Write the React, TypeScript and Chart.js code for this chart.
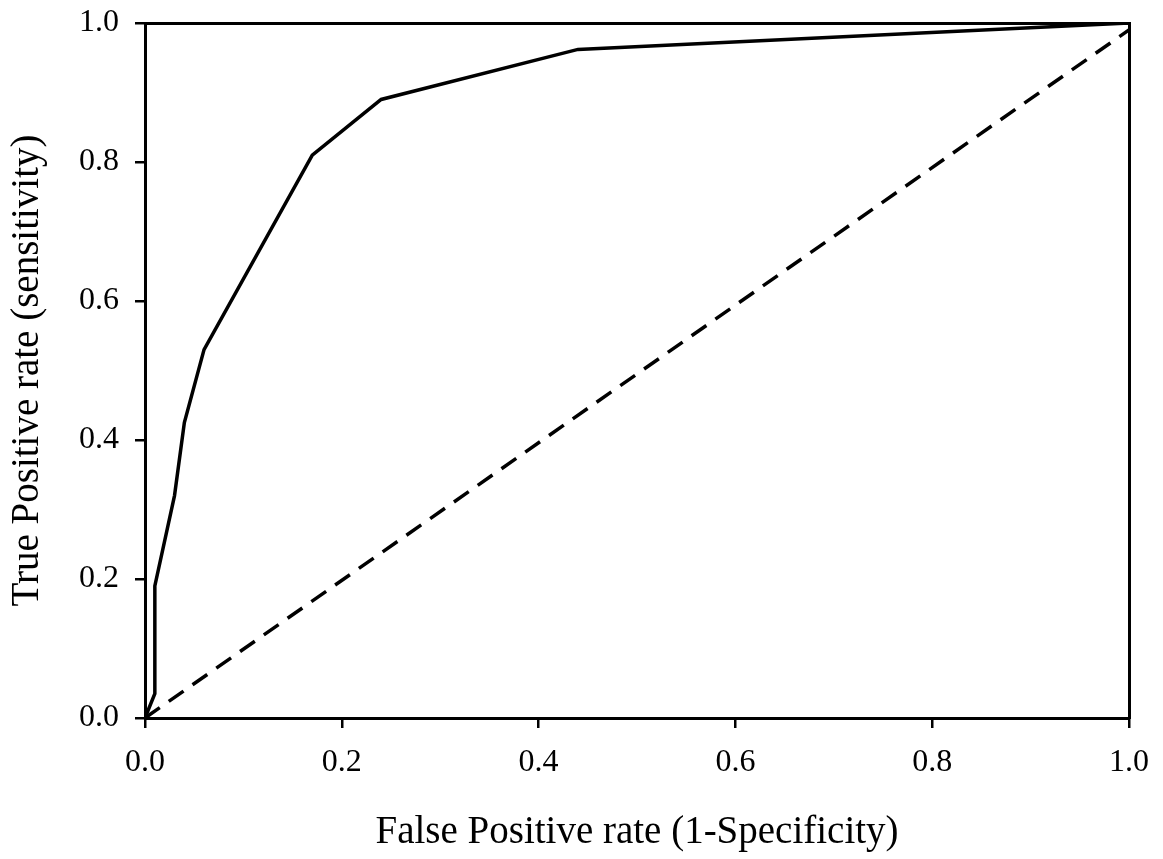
import React, { useEffect, useRef } from "react";
import { Chart, registerables } from "chart.js";

Chart.register(...registerables);

// ROC curve points (False Positive rate, True Positive rate)
const fpr = [0, 0.01, 0.01, 0.03, 0.04, 0.06, 0.17, 0.24, 0.44, 1.0];
const tpr = [0, 0.035, 0.19, 0.32, 0.425, 0.53, 0.81, 0.89, 0.962, 1.0];

// Reference (chance) diagonal
const diagX = [0, 1];
const diagY = [0, 0.99];

const xTickLabels = ["0.0", "0.2", "0.4", "0.6", "0.8", "1.0"];
const yTickLabels = ["0.0", "0.2", "0.4", "0.6", "0.8", "1.0"];

const xTitle = "False Positive rate (1-Specificity)";
const yTitle = "True Positive rate (sensitivity)";

const FONT = '"Liberation Serif", "Times New Roman", serif';

export default function App() {
  const ref = useRef<HTMLCanvasElement | null>(null);

  useEffect(() => {
    if (!ref.current) return;
    const tickFont = { family: FONT, size: 32, lineHeight: 1 };
    const titleFont = { family: FONT, size: 39, lineHeight: 1 };
    const chart = new Chart(ref.current, {
      type: "scatter",
      data: {
        datasets: [
          {
            data: fpr.map((x, i) => ({ x, y: tpr[i] })),
            showLine: true,
            borderColor: "#000",
            borderWidth: 3.5,
            pointRadius: 0,
            tension: 0,
            borderJoinStyle: "miter",
          },
          {
            data: diagX.map((x, i) => ({ x, y: diagY[i] })),
            showLine: true,
            borderColor: "#000",
            borderWidth: 3.5,
            borderDash: [18, 11],
            pointRadius: 0,
            tension: 0,
          },
        ],
      },
      options: {
        animation: false,
        responsive: false,
        devicePixelRatio: 1,
        layout: { padding: 0 },
        plugins: { legend: { display: false }, tooltip: { enabled: false } },
        scales: {
          x: {
            type: "linear",
            position: "bottom",
            min: 0,
            max: 1,
            afterFit: (s: any) => {
              s.height = 141;
              s.paddingLeft = 0;
              s.paddingRight = 0;
            },
            ticks: {
              stepSize: 0.2,
              color: "#000",
              font: tickFont,
              padding: 19,
              maxRotation: 0,
              callback: (_v: any, i: number) => xTickLabels[i],
            },
            grid: {
              drawOnChartArea: false,
              drawTicks: true,
              tickLength: 10,
              tickColor: "#000",
              tickWidth: 2.5,
              color: "#000",
              lineWidth: 2.5,
            },
            border: { display: true, color: "#000", width: 3 },
            title: {
              display: true,
              text: xTitle,
              color: "#000",
              font: titleFont,
              padding: { top: 0, bottom: 7 },
            },
          },
          y: {
            type: "linear",
            position: "left",
            min: 0,
            max: 1,
            afterFit: (s: any) => {
              s.width = 145;
              s.paddingTop = 0;
              s.paddingBottom = 0;
            },
            ticks: {
              stepSize: 0.2,
              color: "#000",
              font: tickFont,
              padding: 16,
              callback: (_v: any, i: number) => yTickLabels[i],
            },
            grid: {
              drawOnChartArea: false,
              drawTicks: true,
              tickLength: 10,
              tickColor: "#000",
              tickWidth: 2.5,
              color: "#000",
              lineWidth: 2.5,
            },
            border: { display: true, color: "#000", width: 3 },
            title: {
              display: true,
              text: yTitle,
              color: "#000",
              font: titleFont,
              padding: { top: 8, bottom: 0 },
            },
          },
          x2: {
            type: "linear",
            position: "top",
            min: 0,
            max: 1,
            afterFit: (s: any) => {
              s.height = 23;
              s.paddingLeft = 0;
              s.paddingRight = 0;
            },
            ticks: { display: false },
            grid: { display: false },
            border: { display: true, color: "#000", width: 3 },
          },
          y2: {
            type: "linear",
            position: "right",
            min: 0,
            max: 1,
            afterFit: (s: any) => {
              s.width = 34;
              s.paddingTop = 0;
              s.paddingBottom = 0;
            },
            ticks: { display: false },
            grid: { display: false },
            border: { display: true, color: "#000", width: 3 },
          },
        },
      },
    } as any);
    return () => chart.destroy();
  }, []);

  return (
    <div style={{ position: "absolute", left: 0, top: 0, width: 1163, height: 859, background: "#fff" }}>
      <canvas ref={ref} width={1163} height={859} style={{ display: "block" }} />
    </div>
  );
}
